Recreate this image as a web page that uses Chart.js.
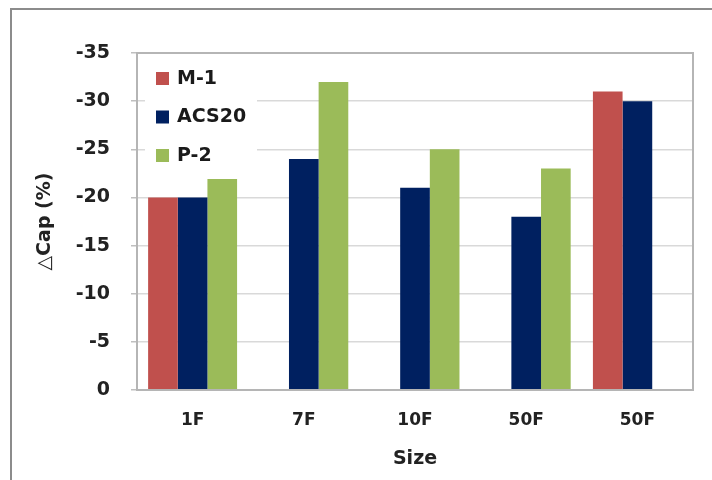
<!DOCTYPE html>
<html>
<head>
<meta charset="utf-8">
<script src="https://cdn.jsdelivr.net/npm/chart.js@4/dist/chart.umd.min.js"></script>
<style>
  html, body { margin: 0; padding: 0; background: #fff; }
  #wrap { width: 712px; height: 480px; }
</style>
</head>
<body>
<div id="wrap"><canvas id="capChart" width="712" height="480"></canvas></div>
<script>
const sizes = ['1F', '7F', '10F', '50F', '50F'];
const m1Values = [-20, null, null, null, -31];
const acs20Values = [-20, -24, -21, -18, -30];
const p2Values = [-22, -32, -25, -23, null];
const yMin = -35;
const yMax = 0;
const yStep = 5;

const fontFamily = "'DejaVu Sans', sans-serif";

// outer frame of the picture (only top and left edges are visible)
const outerFrame = {
  id: 'outerFrame',
  beforeDraw(chart) {
    const ctx = chart.ctx;
    ctx.save();
    ctx.fillStyle = '#fff';
    ctx.fillRect(0, 0, chart.width, chart.height);
    ctx.strokeStyle = '#8c8c8c';
    ctx.lineWidth = 2;
    ctx.strokeRect(11, 9, 900, 900);
    ctx.restore();
  }
};

// legend sitting inside the plot, top left
const insideLegend = {
  id: 'insideLegend',
  afterDatasetsDraw(chart) {
    const { ctx, chartArea } = chart;
    ctx.save();
    ctx.fillStyle = '#fff';
    ctx.fillRect(chartArea.left + 8, chartArea.top + 8, 112, 118);
    chart.data.datasets.forEach((ds, i) => {
      const y = chartArea.top + 26 + i * 38.5;
      ctx.fillStyle = ds.backgroundColor;
      ctx.fillRect(chartArea.left + 19, y - 7, 13, 13);
      ctx.fillStyle = '#1a1a1a';
      ctx.font = 'bold 19px ' + fontFamily;
      ctx.textBaseline = 'middle';
      ctx.textAlign = 'left';
      ctx.fillText(ds.label, chartArea.left + 40, y);
    });
    ctx.restore();
  },
  afterDraw(chart) {
    const { ctx, chartArea } = chart;
    ctx.save();
    ctx.strokeStyle = '#b5b5b5';
    ctx.lineWidth = 2;
    ctx.strokeRect(chartArea.left, chartArea.top, chartArea.right - chartArea.left, chartArea.bottom - chartArea.top);
    ctx.restore();
  }
};

const ctx = document.getElementById('capChart').getContext('2d');
new Chart(ctx, {
  type: 'bar',
  data: {
    labels: sizes,
    datasets: [
      { label: 'M-1', data: m1Values, backgroundColor: '#c0504d' },
      { label: 'ACS20', data: acs20Values, backgroundColor: '#002060' },
      { label: 'P-2', data: p2Values, backgroundColor: '#9bbb59' }
    ]
  },
  options: {
    responsive: false,
    animation: false,
    devicePixelRatio: 1,
    layout: { padding: { left: 0, top: 53, right: 19, bottom: 0 } },
    datasets: {
      bar: { categoryPercentage: 0.8, barPercentage: 1, borderWidth: 0 }
    },
    plugins: {
      legend: { display: false },
      tooltip: { enabled: false }
    },
    scales: {
      x: {
        grid: { display: false, drawTicks: false },
        border: { display: true, color: '#bfbfbf', width: 2 },
        ticks: {
          color: '#222',
          padding: 20,
          font: { family: fontFamily, size: 17, weight: 'bold' }
        },
        title: {
          display: true,
          text: 'Size',
          color: '#222',
          padding: { top: 0, bottom: 10 },
          font: { family: fontFamily, size: 19, weight: 'bold' }
        },
        afterFit(scale) { scale.height = 90; }
      },
      y: {
        min: yMin,
        max: yMax,
        reverse: true,
        grid: { color: '#d9d9d9', lineWidth: 1.5, tickLength: 6, tickColor: '#bfbfbf' },
        border: { display: true, color: '#bfbfbf', width: 2 },
        ticks: {
          stepSize: yStep,
          color: '#222',
          padding: 21,
          font: { family: fontFamily, size: 19, weight: 'bold' }
        },
        title: {
          display: true,
          text: '△Cap (%)',
          color: '#222',
          padding: { top: 34, bottom: 0 },
          font: { family: fontFamily, size: 19, weight: 'bold' }
        },
        afterFit(scale) { scale.width = 137; }
      }
    }
  },
  plugins: [outerFrame, insideLegend]
});
</script>
</body>
</html>
